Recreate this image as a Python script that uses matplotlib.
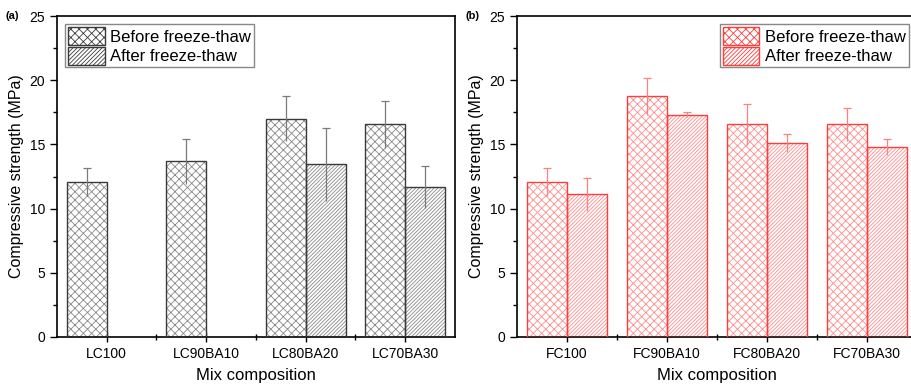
import numpy as np
import matplotlib.pyplot as plt
from matplotlib.ticker import MultipleLocator
from matplotlib.patches import Patch

plt.rcParams['font.family'] = ['Liberation Sans', 'DejaVu Sans']
plt.rcParams['hatch.linewidth'] = 0.6

# данные (a): LC
lc_labels = ['LC100', 'LC90BA10', 'LC80BA20', 'LC70BA30']
lc_before = [12.1, 13.7, 17.0, 16.55]
lc_before_err = [1.1, 1.75, 1.75, 1.8]
lc_after = [np.nan, np.nan, 13.45, 11.7]
lc_after_err = [np.nan, np.nan, 2.85, 1.65]

# данные (b): FC
fc_labels = ['FC100', 'FC90BA10', 'FC80BA20', 'FC70BA30']
fc_before = [12.05, 18.75, 16.55, 16.55]
fc_before_err = [1.1, 1.45, 1.6, 1.3]
fc_after = [11.1, 17.3, 15.1, 14.8]
fc_after_err = [1.3, 0.2, 0.7, 0.65]

legend_labels = ['Before freeze-thaw', 'After freeze-thaw']


def err_up(ax, x, y, e, color):
    """Планки погрешностей: линия на всю длину, колпачок только сверху"""
    x = np.asarray(x, float)
    y = np.asarray(y, float)
    e = np.asarray(e, float)
    ok = ~np.isnan(y)
    ax.vlines(x[ok], y[ok] - e[ok], y[ok] + e[ok], color=color, lw=0.9, zorder=4)
    ax.hlines(y[ok] + e[ok], x[ok] - 0.04, x[ok] + 0.04, color=color, lw=0.9, zorder=4)


def hbar(ax, x, y, w, edge, hcolor, hatch):
    # сначала штриховка светлым цветом, потом контур тёмным
    ax.bar(x, y, w, facecolor='white', edgecolor=hcolor, hatch=hatch, linewidth=0, zorder=2)
    ax.bar(x, y, w, facecolor='none', edgecolor=edge, linewidth=1.0, zorder=3)


def panel(ax, labels, before, before_err, after, after_err, edge, hcolor, ecolor, tag,
          legend_loc):
    x = np.arange(1, len(labels) + 1)
    w = 0.4
    hbar(ax, x - w / 2, before, w, edge, hcolor, 'xxxx')
    hbar(ax, x + w / 2, after, w, edge, hcolor, '/' * 9)
    err_up(ax, x - w / 2, before, before_err, ecolor)
    err_up(ax, x + w / 2, after, after_err, ecolor)

    ax.set_xlim(0.5, 4.5)
    ax.set_ylim(0, 25)
    ax.set_xticks(x)
    ax.set_xticklabels(labels, fontsize=10)
    ax.set_xticks(x[:-1] + 0.5, minor=True)
    ax.yaxis.set_major_locator(MultipleLocator(5))
    ax.yaxis.set_minor_locator(MultipleLocator(2.5))
    ax.tick_params(axis='y', labelsize=10, direction='out', length=5, width=1)
    ax.tick_params(axis='y', which='minor', direction='out', length=3, width=1)
    ax.tick_params(axis='x', which='major', direction='inout', length=7, width=1)
    ax.tick_params(axis='x', which='minor', direction='inout', length=5, width=1)
    for s in ax.spines.values():
        s.set_linewidth(1.2)
    ax.set_xlabel('Mix composition', fontsize=12, labelpad=5)
    ax.set_ylabel('Compressive strength (MPa)', fontsize=11.5)

    # элементы легенды со штриховкой
    handles = [Patch(facecolor='white', edgecolor=edge, hatch='xxxx', linewidth=1.0),
               Patch(facecolor='white', edgecolor=edge, hatch='/' * 8, linewidth=1.0)]
    ax.legend(handles=handles, labels=legend_labels, loc=legend_loc, fontsize=12,
              frameon=True, fancybox=False, edgecolor='#888888', framealpha=1,
              borderpad=0.15, handlelength=2.2, handleheight=1.3, handletextpad=0.35,
              labelspacing=0.1, borderaxespad=0.5)
    ax.text(-0.13, 1.0, tag, transform=ax.transAxes, fontsize=8, fontweight='bold',
            va='center', ha='left')


fig = plt.figure(figsize=(9.12, 3.89), dpi=100)
ax1 = fig.add_axes([57 / 912, 1 - 337 / 389, 398 / 912, 321 / 389])
ax2 = fig.add_axes([517 / 912, 1 - 337 / 389, 400 / 912, 321 / 389])

panel(ax1, lc_labels, lc_before, lc_before_err, lc_after, lc_after_err,
      '#3a3a3a', '#8a8a8a', '#7a7a7a', '(a)', 'upper left')
panel(ax2, fc_labels, fc_before, fc_before_err, fc_after, fc_after_err,
      '#ff3c3c', '#ff8c8c', '#ff8080', '(b)', 'upper right')

fig.savefig('out.png', dpi=100)
